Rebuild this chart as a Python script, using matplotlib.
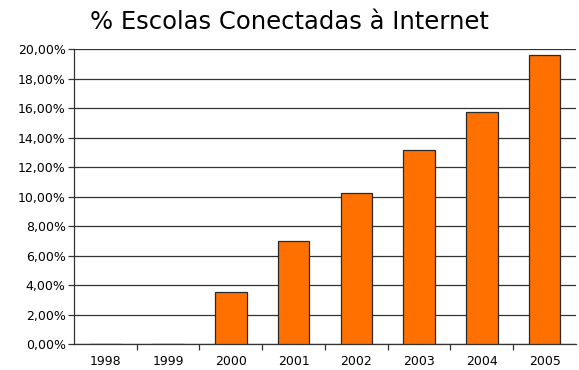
import numpy as np
import matplotlib.pyplot as plt
from matplotlib.ticker import FuncFormatter, FixedLocator

# dados: percentual de escolas conectadas por ano
anos = ['1998', '1999', '2000', '2001', '2002', '2003', '2004', '2005']
percentuais = [0.0, 0.0, 3.53, 6.97, 10.25, 13.15, 15.77, 19.6]

fig = plt.figure(figsize=(5.79, 3.70), dpi=100)
ax = fig.add_axes([0.1278, 0.0703, 0.867, 0.7965])

x = np.arange(len(anos))
ax.bar(x, percentuais, width=0.5, color='#ff7000', edgecolor='#2a2a2a',
       linewidth=0.9, zorder=3)

ax.set_xlim(-0.5, len(anos) - 0.5)
ax.set_ylim(0, 20)
ax.set_yticks(np.arange(0, 21, 2))
ax.yaxis.set_major_formatter(FuncFormatter(lambda v, p: '{:.2f}%'.format(v).replace('.', ',')))
ax.grid(axis='y', color='#333333', linewidth=0.9, zorder=0)

# rótulos centrados, marcas nas divisões entre categorias
ax.set_xticks(x)
ax.set_xticklabels(anos)
ax.tick_params(axis='x', which='major', length=0, pad=8)
ax.xaxis.set_minor_locator(FixedLocator(np.arange(0.5, len(anos) - 1, 1)))
ax.tick_params(axis='x', which='minor', length=4, width=0.9, color='#333333', direction='out')
ax.tick_params(axis='y', length=4, width=0.9, color='#333333', pad=2)
ax.tick_params(labelsize=9)

for s in ['top', 'right']:
    ax.spines[s].set_visible(False)
for s in ['left', 'bottom']:
    ax.spines[s].set_color('#333333')
    ax.spines[s].set_linewidth(0.9)

fig.suptitle('% Escolas Conectadas à Internet', fontsize=17.5, y=0.973)

fig.savefig('out.png', dpi=100)
